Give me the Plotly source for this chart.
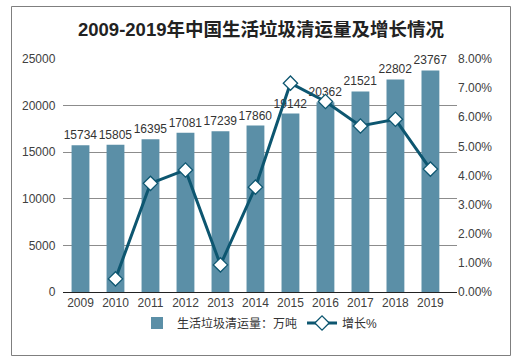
import plotly.graph_objects as go

years = ["2009", "2010", "2011", "2012", "2013", "2014", "2015", "2016", "2017", "2018", "2019"]
volume = [15734, 15805, 16395, 17081, 17239, 17860, 19142, 20362, 21521, 22802, 23767]
growth_years = ["2010", "2011", "2012", "2013", "2014", "2015", "2016", "2017", "2018", "2019"]
growth = [0.45, 3.73, 4.19, 0.93, 3.60, 7.17, 6.54, 5.70, 5.93, 4.22]

W, H = 522, 362
ml, mr, mt, mb = 63, 65, 59, 70
pw, ph = W - ml - mr, H - mt - mb

FONT = "Liberation Sans, Arial, Noto Sans CJK SC, sans-serif"

fig = go.Figure()
fig.add_trace(go.Bar(
    x=years, y=volume, name="生活垃圾清运量：万吨",
    marker=dict(color="#5B8FA7", line=dict(width=0)),
    text=[str(v) for v in volume], textposition="outside", constraintext="none",
    textfont=dict(size=12, color="#333333"), cliponaxis=False,
))
fig.add_trace(go.Scatter(
    x=growth_years, y=growth, name="增长%", yaxis="y2", mode="lines+markers",
    line=dict(color="#0D5670", width=3),
    marker=dict(symbol="diamond", size=11, color="white", line=dict(color="#0D5670", width=1.3)),
    cliponaxis=False,
))

def px_x(p):
    return (p - ml) / pw

def px_y(p):
    return 1 - (p - mt) / ph

fig.update_layout(
    width=W, height=H,
    margin=dict(l=ml, r=mr, t=mt, b=mb, autoexpand=False),
    paper_bgcolor="white", plot_bgcolor="white",
    font=dict(family=FONT, size=12, color="#404040"),
    title=dict(text="<b>2009-2019年中国生活垃圾清运量及增长情况</b>", x=0.5, xanchor="center",
               y=1 - 30 / H, yanchor="middle", font=dict(size=18.5, color="#222222", family=FONT)),
    bargap=0.49,
    xaxis=dict(showline=True, linecolor="#222222", linewidth=1, ticks="", showgrid=False,
               tickfont=dict(size=12, color="#404040")),
    yaxis=dict(range=[0, 25000], dtick=5000, tickformat="d", showgrid=True, gridcolor="#8C8C8C",
               gridwidth=1, zeroline=False, showline=False, ticks="",
               tickfont=dict(size=12, color="#404040"), ticksuffix="  "),
    yaxis2=dict(range=[0, 8], dtick=1, overlaying="y", side="right", showgrid=False, zeroline=False,
                showline=False, ticks="", ticksuffix="%", tickformat=".2f",
                tickfont=dict(size=12, color="#404040")),
    legend=dict(orientation="h", x=0.5, xanchor="center", y=px_y(323), yanchor="middle",
                font=dict(size=12, color="#333333"), traceorder="normal"),
    showlegend=True,
    shapes=[dict(type="rect", xref="paper", yref="paper",
                 x0=px_x(11.5), x1=px_x(510.5), y0=px_y(355.5), y1=px_y(6.5),
                 line=dict(color="#7F7F7F", width=1), fillcolor="rgba(0,0,0,0)", layer="above")],
)
fig.write_html("out.html", config={"displayModeBar": False},
               post_script="document.body.style.margin='0';")
